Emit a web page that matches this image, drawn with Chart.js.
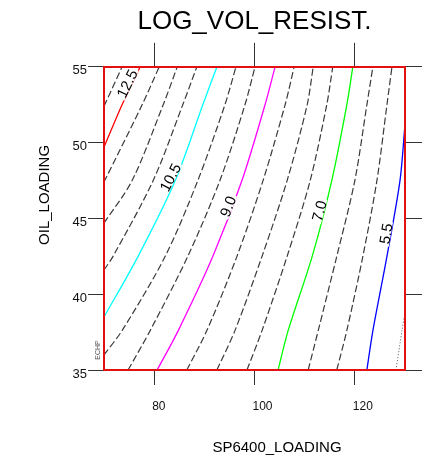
<!DOCTYPE html>
<html lang="en">
<head>
  <meta charset="UTF-8">
  <title>LOG_VOL_RESIST.</title>
  <script src="https://cdn.jsdelivr.net/npm/chart.js"></script>
  <style>
    html, body { margin: 0; padding: 0; background: #fff; }
    #wrap { width: 422px; height: 461px; }
  </style>
</head>
<body>
  <div id="wrap"><canvas id="chart" width="422" height="461"></canvas></div>

  <script>
    // Tick values
    const xTicks = [80, 100, 120];
    const yTicks = [35, 40, 45, 50, 55];

    // Contour levels, and the traced points of each line [SP6400_LOADING, OIL_LOADING]
    const levels = [13.0, 12.5, 12.0, 11.5, 11.0, 10.5, 10.0, 9.5, 9.0, 8.5, 8.0, 7.5, 7.0, 6.5, 6.0, 5.5, 5.0];
    const c130 = [[70, 52.4], [73.6, 55]];
    const c125 = [[70, 49.7], [73.6, 52.5], [77.2, 55]];
    const c120 = [[70, 47.4], [77.6, 52.5], [81.0, 55]];
    const c115 = [[70, 44.7], [75.6, 47.5], [81.8, 52.5], [84.6, 55]];
    const c110 = [[70, 41.6], [71.8, 42.5], [79.8, 47.5], [85.7, 52.5], [88.5, 55]];
    const c105 = [[70, 38.5], [76.8, 42.5], [84.2, 47.5], [89.7, 52.5], [92.5, 55]];
    const c100 = [[70, 36.0], [73.6, 37.6], [82.2, 42.5], [88.7, 47.5], [94.1, 52.5], [96.3, 55]];
    const c095 = [[74.8, 35], [79.2, 37.6], [86.7, 42.5], [93.1, 47.5], [98.1, 52.5], [100.1, 55]];
    const c090 = [[80.6, 35], [84.8, 37.6], [91.7, 42.5], [97.5, 47.5], [102.1, 52.5], [104.1, 55]];
    const c085 = [[86.5, 35], [90.5, 37.6], [96.5, 42.5], [101.7, 47.5], [106.1, 52.5], [107.9, 55]];
    const c080 = [[92.5, 35], [96.1, 37.6], [101.5, 42.5], [106.5, 47.5], [110.5, 52.5], [111.7, 55]];
    const c075 = [[98.5, 35], [101.5, 37.6], [106.5, 42.5], [111.1, 47.5], [114.4, 52.5], [115.6, 55]];
    const c070 = [[104.7, 35], [106.7, 37.6], [111.5, 42.5], [115.4, 47.5], [118.4, 52.5], [119.6, 55]];
    const c065 = [[110.7, 35], [112.7, 37.6], [116.4, 42.5], [120.0, 47.5], [122.4, 52.5], [123.6, 55]];
    const c060 = [[116.4, 35], [118.4, 37.6], [121.6, 42.5], [124.4, 47.5], [126.4, 52.5], [127.4, 55]];
    const c055 = [[122.4, 35], [123.6, 37.6], [126.4, 42.5], [129.0, 47.5], [130, 51.2]];
    const c050 = [[128.2, 35], [129.4, 37.6], [130, 38.8]];
    const contours = [c130, c125, c120, c115, c110, c105, c100, c095, c090, c085, c080, c075, c070, c065, c060, c055, c050];

    // Inline contour labels
    const labelText = ['12.5', '10.5', '9.0', '7.0', '5.5'];
    const labelX = [74.6, 83.2, 94.7, 112.9, 126.2];
    const labelY = [53.9, 47.7, 45.8, 45.5, 44.0];
    const labelAngle = [-64, -63, -69, -75, -80];

    const FONT = '"Liberation Sans", Arial, Helvetica, sans-serif';

    // colored levels, the rest are dashed
    const lineColors = { 12.5: '#ff0000', 10.5: '#00ffff', 9: '#ff00ff', 7: '#00ff00', 5.5: '#0000ff' };
    function lineStyle(level) {
      if (lineColors[level]) return { borderColor: lineColors[level], borderDash: [], borderWidth: 1.3 };
      if (level === 5) return { borderColor: '#555', borderDash: [1, 2], borderWidth: 1 };
      return { borderColor: '#3a3a3a', borderDash: [7, 3], borderWidth: 1.2 };
    }

    const datasets = levels.map((lv, i) => ({
      label: lv.toFixed(1),
      data: contours[i].map(p => ({ x: p[0], y: p[1] })),
      showLine: true,
      pointRadius: 0,
      tension: 0.3,
      fill: false,
      ...lineStyle(lv)
    }));

    // Labels sitting in gaps of the contour lines
    const contourLabels = {
      id: 'contourLabels',
      afterDatasetsDraw(chart) {
        const { ctx, scales: { x, y } } = chart;
        ctx.save();
        ctx.font = '15px ' + FONT;
        ctx.textAlign = 'center';
        ctx.textBaseline = 'middle';
        labelText.forEach((t, i) => {
          ctx.save();
          ctx.translate(x.getPixelForValue(labelX[i]), y.getPixelForValue(labelY[i]));
          ctx.rotate(labelAngle[i] * Math.PI / 180);
          const w = ctx.measureText(t).width;
          ctx.fillStyle = '#fff';
          ctx.fillRect(-w / 2 - 2, -5, w + 4, 10);
          ctx.fillStyle = '#000';
          ctx.fillText(t, 0, 1);
          ctx.restore();
        });
        ctx.restore();
      }
    };

    // Axis titles sit off-center in the original
    const axisTitles = {
      id: 'axisTitles',
      afterDraw(chart) {
        const { ctx, chartArea: a } = chart;
        ctx.save();
        ctx.fillStyle = '#000';
        ctx.font = '15px ' + FONT;
        ctx.textAlign = 'center';
        ctx.textBaseline = 'middle';
        ctx.fillText('SP6400_LOADING', a.left + 173, a.bottom + 78);
        ctx.save();
        ctx.translate(a.left - 59, a.top + 128);
        ctx.rotate(-Math.PI / 2);
        ctx.fillText('OIL_LOADING', 0, 0);
        ctx.restore();
        ctx.save();
        ctx.fillStyle = '#555';
        ctx.font = '7px ' + FONT;
        ctx.translate(a.left - 6, a.bottom - 20);
        ctx.rotate(-Math.PI / 2);
        ctx.fillText('ECHP', 0, 0);
        ctx.restore();
        ctx.restore();
      }
    };

    const border = { color: '#e41010', width: 2, z: 1 };
    const grid = len => ({ drawOnChartArea: false, tickLength: len, tickColor: '#333', tickWidth: 1 });
    const setX = s => { s.ticks = xTicks.map(v => ({ value: v })); };
    const setY = s => { s.ticks = yTicks.map(v => ({ value: v })); };

    new Chart(document.getElementById('chart'), {
      type: 'scatter',
      data: { datasets },
      options: {
        responsive: false,
        animation: false,
        layout: { padding: 0 },
        plugins: {
          legend: { display: false },
          tooltip: { enabled: false },
          title: {
            display: true,
            fullSize: false,
            text: 'LOG_VOL_RESIST.',
            color: '#000',
            font: { family: FONT, size: 26, weight: 'normal', lineHeight: 1.15 },
            padding: { top: 7, bottom: 0 }
          }
        },
        scales: {
          x: {
            type: 'linear', position: 'bottom', min: 70, max: 130,
            afterBuildTicks: setX,
            afterFit: s => { s.height = 91; },
            grid: grid(15), border,
            ticks: { color: '#111', font: { family: FONT, size: 12 }, padding: 14, align: 'start', labelOffset: -2, maxRotation: 0 }
          },
          x2: {
            type: 'linear', position: 'top', min: 70, max: 130,
            afterBuildTicks: setX,
            afterFit: s => { s.height = 30; },
            grid: grid(24), border,
            ticks: { display: false }
          },
          y: {
            type: 'linear', position: 'left', min: 35, max: 55,
            afterBuildTicks: setY,
            afterFit: s => { s.width = 104; },
            grid: grid(16), border,
            ticks: { color: '#111', font: { family: FONT, size: 13 }, padding: 1, labelOffset: 4 }
          },
          y2: {
            type: 'linear', position: 'right', min: 35, max: 55,
            afterBuildTicks: setY,
            afterFit: s => { s.width = 17; },
            grid: grid(17), border,
            ticks: { display: false }
          }
        }
      },
      plugins: [contourLabels, axisTitles]
    });
  </script>
</body>
</html>
